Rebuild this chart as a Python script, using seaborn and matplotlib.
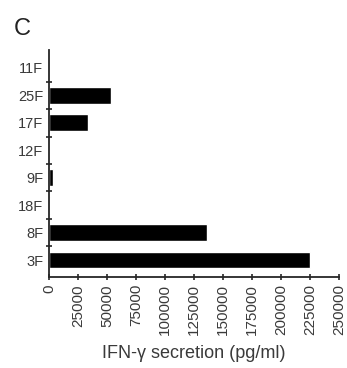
import numpy as np
import pandas as pd
import matplotlib
matplotlib.use("Agg")
import matplotlib.pyplot as plt
import seaborn as sns

# values (pg/ml)
clones = ["11F", "25F", "17F", "12F", "9F", "18F", "8F", "3F"]
ifn_gamma = [300, 53500, 33500, 200, 3500, 1000, 136000, 225000]
x_ticks = [0, 25000, 50000, 75000, 100000, 125000, 150000, 175000, 200000, 225000, 250000]

df = pd.DataFrame({"clone": clones, "ifn": ifn_gamma})

sns.set_style("ticks")
plt.rcParams["font.family"] = ["Liberation Sans", "DejaVu Sans"]

fig = plt.figure(figsize=(3.47, 3.68), dpi=100)
ax = fig.add_axes([0.141, 0.247, 0.836, 0.617])

sns.barplot(data=df, x="ifn", y="clone", order=clones, color="black",
            width=0.61, orient="h", ax=ax, saturation=1)

ax.set_xlim(0, 250000)
ax.set_ylim(7.62, -0.65)
ax.set_xticks(x_ticks)
ax.set_xticklabels([str(t) for t in x_ticks], rotation=90, fontsize=11, color="#3a3a3a")
ax.set_yticks(range(len(clones)))
ax.set_yticklabels(clones, fontsize=10.5, color="#3a3a3a")
ax.set_yticks(np.arange(0.5, len(clones) - 1, 1), minor=True)
ax.tick_params(axis="y", which="major", length=0, pad=4)
ax.tick_params(axis="y", which="minor", length=5, width=1.2, direction="inout")
ax.tick_params(axis="x", length=4, width=1.2, direction="inout", pad=3)

ax.set_xlabel("IFN-\u03b3 secretion (pg/ml)", fontsize=13, color="#3a3a3a", labelpad=7)
ax.set_ylabel("")
for side in ["top", "right"]:
    ax.spines[side].set_visible(False)
for side in ["left", "bottom"]:
    ax.spines[side].set_linewidth(1.3)

fig.text(0.04, 0.905, "C", fontsize=17, color="#222222")

fig.savefig("out.png", dpi=100)
